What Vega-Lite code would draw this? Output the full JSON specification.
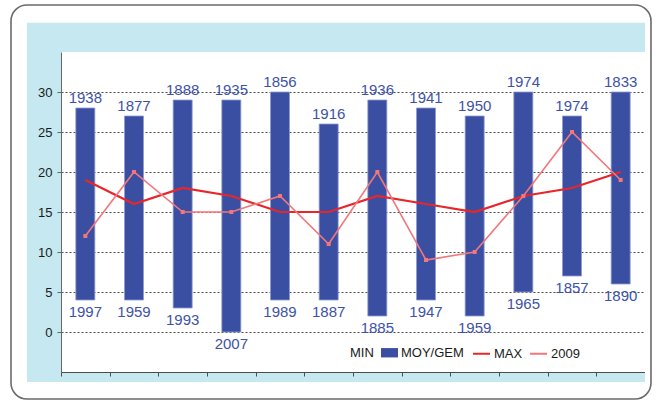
{
  "$schema": "https://vega.github.io/schema/vega-lite/v6.json",
  "width": 584,
  "height": 320,
  "autosize": {"type": "none"},
  "padding": {"left": 61, "top": 52, "right": 14, "bottom": 28},
  "background": "#C6E8F0",
  "config": {
    "view": {"fill": "#FFFFFF", "stroke": null},
    "font": "Liberation Sans"
  },
  "data": {
    "values": [
      {"month": 1, "min": 4, "max": 28, "avg": 19, "y2009": 12, "minYear": 1997, "maxYear": 1938},
      {"month": 2, "min": 4, "max": 27, "avg": 16, "y2009": 20, "minYear": 1959, "maxYear": 1877},
      {"month": 3, "min": 3, "max": 29, "avg": 18, "y2009": 15, "minYear": 1993, "maxYear": 1888},
      {"month": 4, "min": 0, "max": 29, "avg": 17, "y2009": 15, "minYear": 2007, "maxYear": 1935},
      {"month": 5, "min": 4, "max": 30, "avg": 15, "y2009": 17, "minYear": 1989, "maxYear": 1856},
      {"month": 6, "min": 4, "max": 26, "avg": 15, "y2009": 11, "minYear": 1887, "maxYear": 1916},
      {"month": 7, "min": 2, "max": 29, "avg": 17, "y2009": 20, "minYear": 1885, "maxYear": 1936},
      {"month": 8, "min": 4, "max": 28, "avg": 16, "y2009": 9, "minYear": 1947, "maxYear": 1941},
      {"month": 9, "min": 2, "max": 27, "avg": 15, "y2009": 10, "minYear": 1959, "maxYear": 1950},
      {"month": 10, "min": 5, "max": 30, "avg": 17, "y2009": 17, "minYear": 1965, "maxYear": 1974},
      {"month": 11, "min": 7, "max": 27, "avg": 18, "y2009": 25, "minYear": 1857, "maxYear": 1974},
      {"month": 12, "min": 6, "max": 30, "avg": 20, "y2009": 19, "minYear": 1890, "maxYear": 1833}
    ]
  },
  "layer": [
    {
      "mark": {"type": "bar", "size": 19, "stroke": "#8E9BD3", "strokeWidth": 0.8},
      "encoding": {
        "x": {
          "field": "month",
          "type": "quantitative",
          "scale": {"domain": [0.5, 12.5], "nice": false, "zero": false, "padding": 0},
          "axis": {
            "values": [0.5, 1.5, 2.5, 3.5, 4.5, 5.5, 6.5, 7.5, 8.5, 9.5, 10.5, 11.5, 12.5],
            "labels": false,
            "grid": false,
            "title": null,
            "tickSize": 4,
            "domainColor": "#4D4D4D",
            "tickColor": "#4D4D4D"
          }
        },
        "y": {
          "field": "max",
          "type": "quantitative",
          "scale": {"domain": [-5, 35], "nice": false, "zero": false, "padding": 0},
          "axis": {
            "values": [0, 5, 10, 15, 20, 25, 30],
            "labelOverlap": false,
            "title": null,
            "tickSize": 4,
            "labelFontSize": 13,
            "labelColor": "#1A1A1A",
            "labelPadding": 5,
            "domainColor": "#666666",
            "tickColor": "#666666",
            "gridColor": "#4A4A4A",
            "gridDash": [2, 2]
          }
        },
        "y2": {"field": "min"},
        "fill": {
          "datum": "MOY/GEM",
          "type": "nominal",
          "scale": {"domain": ["MIN", "MOY/GEM"], "range": ["#FFFFFF", "#3B4FA2"]},
          "legend": {
            "orient": "none",
            "legendX": 269,
            "legendY": 292,
            "direction": "horizontal",
            "title": null,
            "padding": 0,
            "labelFont": "Liberation Sans",
            "labelFontSize": 13,
            "labelColor": "#1A1A1A",
            "symbolType": "M-1,-0.55H1V0.55H-1Z",
            "symbolSize": 289,
            "symbolStrokeWidth": 0,
            "labelOffset": 3,
            "columnPadding": 7
          }
        }
      }
    },
    {
      "mark": {"type": "line", "strokeWidth": 2.2},
      "encoding": {
        "x": {"field": "month", "type": "quantitative", "axis": {"title": null}},
        "y": {"field": "avg", "type": "quantitative", "axis": {"title": null}},
        "stroke": {
          "datum": "MAX",
          "type": "nominal",
          "scale": {"domain": ["MAX", "2009"], "range": ["#E8262A", "#F2777A"]},
          "legend": {
            "orient": "none",
            "legendX": 411,
            "legendY": 292,
            "direction": "horizontal",
            "title": null,
            "padding": 0,
            "labelFont": "Liberation Sans",
            "labelFontSize": 13,
            "labelColor": "#1A1A1A",
            "symbolType": "stroke",
            "symbolSize": 289,
            "symbolStrokeWidth": 2,
            "labelOffset": 3,
            "columnPadding": 3
          }
        }
      }
    },
    {
      "mark": {"type": "line", "strokeWidth": 1.6},
      "encoding": {
        "x": {"field": "month", "type": "quantitative", "axis": {"title": null}},
        "y": {"field": "y2009", "type": "quantitative", "axis": {"title": null}},
        "stroke": {"datum": "2009", "type": "nominal"}
      }
    },
    {
      "mark": {"type": "point", "shape": "square", "size": 16, "filled": true, "opacity": 1, "color": "#F2777A"},
      "encoding": {
        "x": {"field": "month", "type": "quantitative", "axis": {"title": null}},
        "y": {"field": "y2009", "type": "quantitative", "axis": {"title": null}}
      }
    },
    {
      "mark": {"type": "text", "baseline": "middle", "dy": -10, "fontSize": 15, "color": "#3D52A8"},
      "encoding": {
        "x": {"field": "month", "type": "quantitative", "axis": {"title": null}},
        "y": {"field": "max", "type": "quantitative", "axis": {"title": null}},
        "text": {"field": "maxYear", "type": "nominal"}
      }
    },
    {
      "mark": {"type": "text", "baseline": "middle", "dy": 12, "fontSize": 15, "color": "#3D52A8"},
      "encoding": {
        "x": {"field": "month", "type": "quantitative", "axis": {"title": null}},
        "y": {"field": "min", "type": "quantitative", "axis": {"title": null}},
        "text": {"field": "minYear", "type": "nominal"}
      }
    },
    {
      "data": {"values": [{}]},
      "mark": {"type": "rect", "color": "#FFFFFF", "clip": false},
      "encoding": {
        "x": {"datum": -0.76, "type": "quantitative"},
        "x2": {"datum": -0.1986},
        "y": {"datum": -8.6, "type": "quantitative"},
        "y2": {"datum": 41.6}
      }
    },
    {
      "data": {"values": [{}]},
      "mark": {"type": "rect", "color": "#FFFFFF", "clip": false},
      "encoding": {
        "x": {"datum": -0.76, "type": "quantitative"},
        "x2": {"datum": 12.8},
        "y": {"datum": 38.66, "type": "quantitative"},
        "y2": {"datum": 41.6}
      }
    },
    {
      "data": {"values": [{}]},
      "mark": {"type": "rect", "color": "#FFFFFF", "clip": false},
      "encoding": {
        "x": {"datum": 12.5, "type": "quantitative"},
        "x2": {"datum": 12.8},
        "y": {"datum": -8.6, "type": "quantitative"},
        "y2": {"datum": 41.6}
      }
    },
    {
      "data": {"values": [{}]},
      "mark": {"type": "rect", "color": "#FFFFFF", "clip": false},
      "encoding": {
        "x": {"datum": -0.76, "type": "quantitative"},
        "x2": {"datum": 12.8},
        "y": {"datum": -8.6, "type": "quantitative"},
        "y2": {"datum": -6.25}
      }
    },
    {
      "data": {"values": [{}]},
      "mark": {"type": "rect", "fill": "transparent", "stroke": "#6B6B6B", "strokeWidth": 1.6, "cornerRadius": 16, "clip": false},
      "encoding": {
        "x": {"datum": -0.5274, "type": "quantitative"},
        "x2": {"datum": 12.623},
        "y": {"datum": -8.375, "type": "quantitative"},
        "y2": {"datum": 40.875}
      }
    }
  ]
}
